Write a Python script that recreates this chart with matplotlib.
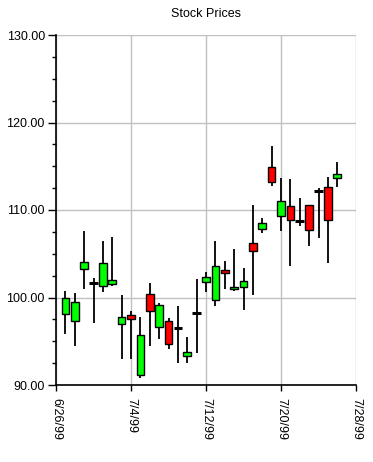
import datetime
import numpy as np
import matplotlib
matplotlib.use("Agg")
import matplotlib.pyplot as plt
import matplotlib.dates as mdates

plt.rcParams['font.family'] = ['Liberation Sans', 'DejaVu Sans']

# daily prices, 6/27/99 .. 7/26/99
start = datetime.date(1999, 6, 27)
dates = [start + datetime.timedelta(days=i) for i in range(30)]
opens = [98.15, 97.28, 103.22, 101.7, 101.28, 101.5, 96.93, 97.96, 91.18, 100.36,
         96.59, 97.28, 96.55, 93.28, 98.27, 101.74, 99.68, 103.1, 100.93, 101.16,
         106.23, 107.8, 114.88, 109.28, 110.42, 108.78, 110.53, 112.2, 112.58, 113.62]
highs = [100.74, 100.51, 107.6, 102.2, 106.46, 106.9, 100.3, 98.46, 97.77, 101.66,
         99.37, 97.66, 99.03, 95.49, 102.1, 102.91, 106.46, 104.17, 105.54, 103.37,
         110.57, 109.09, 117.31, 113.62, 113.5, 111.37, 110.53, 112.48, 113.73, 115.49]
lows = [95.86, 94.49, 101.0, 97.1, 100.66, 101.35, 93.0, 93.0, 90.84, 94.49,
        95.29, 94.15, 92.55, 92.55, 93.7, 100.66, 99.06, 100.97, 100.7, 98.6,
        100.32, 107.4, 112.78, 107.64, 103.6, 108.2, 105.89, 106.83, 103.9, 112.58]
closes = [99.91, 99.45, 104.02, 101.7, 103.9, 101.96, 97.8, 97.5, 95.68, 98.42,
          99.1, 94.65, 96.55, 93.77, 98.27, 102.31, 103.57, 102.76, 101.16, 101.85,
          105.28, 108.48, 113.24, 111.03, 108.82, 108.78, 107.68, 112.2, 108.82, 114.08]

tick_dates = [datetime.date(1999, 6, 26), datetime.date(1999, 7, 4), datetime.date(1999, 7, 12),
              datetime.date(1999, 7, 20), datetime.date(1999, 7, 28)]
tick_labels = ["6/26/99", "7/4/99", "7/12/99", "7/20/99", "7/28/99"]

fig = plt.figure(figsize=(3.73, 4.62), dpi=100)
ax = fig.add_axes([56 / 373, 77 / 462, 300 / 373, 350 / 462])

x = mdates.date2num(dates)
o = np.array(opens)
c = np.array(closes)

# wicks
ax.vlines(x, lows, highs, color="black", linewidth=1.3, zorder=2)

# bodies
up = c > o
down = c < o
flat = c == o
ax.bar(x[up], (c - o)[up], bottom=o[up], width=0.82, color="#00ff00",
       edgecolor="black", linewidth=1.0, zorder=3)
ax.bar(x[down], (o - c)[down], bottom=c[down], width=0.82, color="#ff0000",
       edgecolor="black", linewidth=1.0, zorder=3)
ax.hlines(o[flat], x[flat] - 0.46, x[flat] + 0.46, color="black", linewidth=2.2, zorder=3)

ax.set_xlim(mdates.date2num(tick_dates[0]), mdates.date2num(tick_dates[-1]))
ax.set_ylim(90, 130)
ax.set_xticks(mdates.date2num(tick_dates))
ax.set_xticklabels(tick_labels, rotation=270, fontsize=9)
ax.set_yticks(np.arange(90, 131, 10))
ax.set_yticks(np.arange(90, 131, 2.5), minor=True)
ax.set_yticklabels(["%.2f" % v for v in np.arange(90, 131, 10)], fontsize=9)

ax.tick_params(axis="y", which="major", length=6, width=1, pad=2)
ax.tick_params(axis="y", which="minor", length=3, width=1)
ax.tick_params(axis="x", which="major", length=4, width=1, pad=5)

ax.grid(True, which="major", color="#c0c0c0", linewidth=1.0)
ax.set_axisbelow(True)
for side in ["top", "right"]:
    ax.spines[side].set_visible(False)
for side in ["left", "bottom"]:
    ax.spines[side].set_linewidth(1.2)

ax.set_title("Stock Prices", fontsize=9, pad=13)

fig.savefig("out.png", dpi=100)
